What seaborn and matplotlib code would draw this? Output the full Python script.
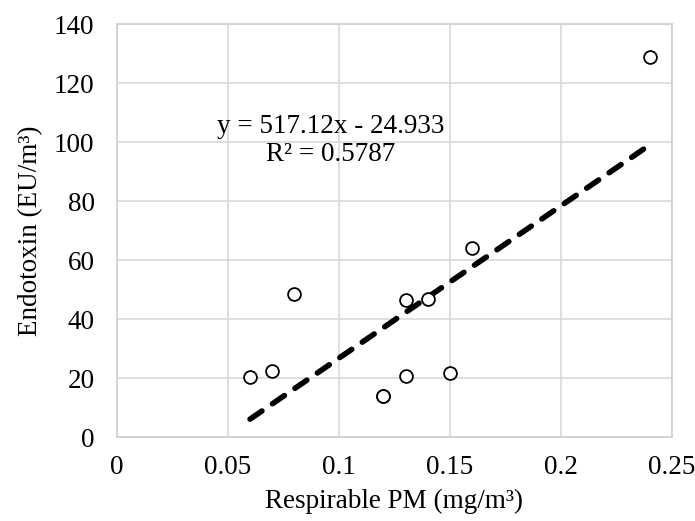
import matplotlib.pyplot as plt
import numpy as np
import pandas as pd
import seaborn as sns

# data
respirable_pm = [0.06, 0.07, 0.08, 0.12, 0.12, 0.13, 0.13, 0.14, 0.15, 0.16, 0.24]
endotoxin = [20.5, 22.5, 48.5, 14.0, 14.0, 46.5, 20.7, 47.0, 21.8, 64.0, 129.0]
slope = 517.12
intercept = -24.933
r_squared = 0.5787
x_ticks = [0, 0.05, 0.1, 0.15, 0.2, 0.25]
x_tick_labels = ["0", "0.05", "0.1", "0.15", "0.2", "0.25"]
y_ticks = [0, 20, 40, 60, 80, 100, 120, 140]

df = pd.DataFrame({"pm": respirable_pm, "endo": endotoxin})
x_fit = np.array([min(respirable_pm), max(respirable_pm)])
fit = pd.DataFrame({"pm": x_fit, "endo": slope * x_fit + intercept})

sns.set_theme(style="whitegrid")
plt.rcParams["font.family"] = ["Liberation Serif", "DejaVu Serif"]

fig = plt.figure(figsize=(6.95, 5.21), dpi=100)
ax = fig.add_axes([0.168, 0.161, 0.799, 0.792])

sns.lineplot(x="pm", y="endo", data=fit, ax=ax, color="black", linewidth=4,
             zorder=2)
trend = ax.lines[-1]
trend.set_dashes([2.6, 2.3])
trend.set_dash_capstyle("round")
sns.scatterplot(x="pm", y="endo", data=df, ax=ax, s=85, facecolor="white",
                edgecolor="black", linewidth=1.3, zorder=3)

ax.text(0.0963, 105.5, f"y = {slope}x - {-intercept}", fontsize=19.5,
        ha="center", va="center", color="black")
ax.text(0.0963, 96, f"R² = {r_squared}", fontsize=19.5,
        ha="center", va="center", color="black")

ax.set_xlim(0, 0.25)
ax.set_ylim(0, 140)
ax.set_xticks(x_ticks)
ax.set_xticklabels(x_tick_labels)
ax.set_yticks(y_ticks)
ax.tick_params(axis="x", labelsize=19.5, length=0, pad=13, colors="black")
ax.tick_params(axis="y", labelsize=19.5, length=0, pad=16, colors="black")
ax.grid(True, color="#d9d9d9", linewidth=1.2)
for sp in ax.spines.values():
    sp.set_color("#d0d0d0")
    sp.set_linewidth(1.2)

ax.set_xlabel("Respirable PM (mg/m³)", fontsize=19.5, color="black", labelpad=6)
ax.set_ylabel("Endotoxin (EU/m³)", fontsize=19.5, color="black", labelpad=8)

plt.savefig("out.png", dpi=100)
